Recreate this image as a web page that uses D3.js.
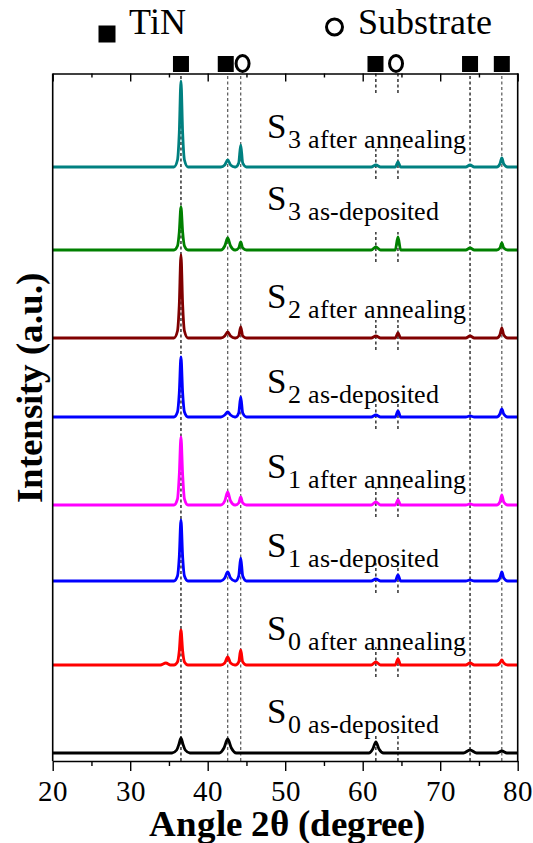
<meta charset="utf-8" />
<script src="https://d3js.org/d3.v7.min.js"></script>
<style>
  @font-face { font-family: 'RefSerif'; font-weight: 400;
    src: local('Liberation Serif'), local('LiberationSerif'), local('LiberationSerif-Regular'), local('Tinos'), local('Times New Roman'), local('DejaVu Serif'), local('DejaVuSerif'); }
  @font-face { font-family: 'RefSerif'; font-weight: 700;
    src: local('Liberation Serif Bold'), local('LiberationSerif-Bold'), local('Tinos Bold'), local('Times New Roman Bold'), local('DejaVu Serif Bold'), local('DejaVuSerif-Bold'); }
  body { margin: 0; background: #fff; }
  svg text { font-family: RefSerif, 'Liberation Serif', 'Times New Roman', serif; }
</style>
<div id="chart"></div>
<script>
  // 2theta grid shared by the coloured patterns (degrees)
  const angles = [20, 33.9, 34.6, 35.2, 35.65, 36.1, 36.33, 36.55, 36.77, 37.0, 37.45,
    41.7, 42.2, 42.58, 42.95, 43.5, 43.6, 44.0, 44.26, 44.52, 45.0,
    61.1, 61.7, 62.3, 64.2, 64.55, 64.9, 73.3, 73.85, 74.4,
    77.3, 77.7, 77.95, 78.2, 78.7, 80];

  // intensities above each pattern's own baseline (a.u.)
  const s3Annealed = [0, 0, 0, 0, 0, 7, 34, 86, 34, 7, 0, 0, 2, 7, 2, 0, 0, 4, 22, 4, 0, 0, 2, 0, 0, 5, 0, 0, 2, 0, 0, 3, 9, 3, 0, 0];
  const s3Deposited = [0, 0, 0, 0, 0, 4, 18, 43, 18, 4, 0, 0, 4, 12, 4, 0, 0, 2, 8, 2, 0, 0, 3, 0, 0, 13, 0, 0, 2, 0, 0, 2, 7, 2, 0, 0];
  const s2Annealed = [0, 0, 0, 0, 0, 7, 33, 83, 33, 7, 0, 0, 2, 6, 2, 0, 0, 2, 11, 2, 0, 0, 2, 0, 0, 5, 0, 0, 2, 0, 0, 3, 10, 3, 0, 0];
  const s2Deposited = [0, 0, 0, 0, 0, 5, 24, 60, 24, 5, 0, 0, 2, 5, 2, 0, 0, 4, 20, 4, 0, 0, 2, 0, 0, 6, 0, 0, 1, 0, 0, 3, 8, 3, 0, 0];
  const s1Annealed = [0, 0, 0, 0, 0, 6, 30, 68, 30, 6, 0, 0, 4, 13, 4, 0, 0, 2, 8, 2, 0, 0, 3, 0, 0, 5, 0, 0, 1, 0, 0, 3, 10, 3, 0, 0];
  const s1Deposited = [0, 0, 0, 0, 0, 5, 24, 61, 24, 5, 0, 0, 3, 9, 3, 0, 0, 5, 23, 5, 0, 0, 2, 0, 0, 6, 0, 0, 1, 0, 0, 3, 9, 3, 0, 0];
  const s0Annealed = [0, 0, 2, 0, 0, 3, 14, 35, 14, 3, 0, 0, 2, 8, 2, 0, 0, 3, 15, 3, 0, 0, 3, 0, 0, 6, 0, 0, 2, 0, 0, 2, 5, 2, 0, 0];

  // the as-deposited S0 film has broader peaks, own grid
  const s0Angles = [20, 35.4, 36.0, 36.3, 36.55, 36.8, 37.1, 37.7, 41.5, 42.1, 42.58, 43.05, 43.7,
    60.8, 61.3, 61.7, 62.1, 62.7, 73.0, 73.85, 74.7, 77.3, 77.95, 78.6, 80];
  const s0Deposited = [0, 0, 3, 9, 15, 9, 3, 0, 0, 5, 14, 5, 0, 0, 4, 11, 4, 0, 0, 3, 0, 0, 2, 0, 0];

  const sampleNames = ['3', '3', '2', '2', '1', '1', '0', '0'];
  const conditions = ['after annealing', 'as-deposited', 'after annealing', 'as-deposited',
    'after annealing', 'as-deposited', 'after annealing', 'as-deposited'];
  const offsets = [594, 511, 423, 344, 256, 180, 96, 8];
  const labelLevels = [623, 551, 453, 368, 283, 204, 121, 38];

  const tinPeaks = [36.55, 42.58, 61.7, 73.85, 77.95];
  const substratePeaks = [44.26, 64.55];
  const tinMarks = [36.55, 42.33, 61.65, 73.85, 77.95];
  const substrateMarks = [44.5, 64.3];

  const xTicks = [20, 30, 40, 50, 60, 70, 80];
  const xMinor = [25, 35, 45, 55, 65, 75];

  const series = [
    { x: angles, y: s3Annealed },
    { x: angles, y: s3Deposited },
    { x: angles, y: s2Annealed },
    { x: angles, y: s2Deposited },
    { x: angles, y: s1Annealed },
    { x: angles, y: s1Deposited },
    { x: angles, y: s0Annealed },
    { x: s0Angles, y: s0Deposited },
  ];
  const colors = ['#008080', '#008000', '#800000', '#0000ff', '#ff00ff', '#0000ff', '#ff0000', '#000000'];

  const serif = "RefSerif, 'Liberation Serif', 'Times New Roman', serif";

  const W = 533, H = 843;
  const svg = d3.select('#chart').append('svg').attr('width', W).attr('height', H);

  const x = d3.scaleLinear().domain([20, 80]).range([52.7, 517.7]);
  const y = d3.scaleLinear().domain([0, 687.5]).range([761, 73.5]);

  // dashed reference lines
  const full = [
    { a: tinPeaks[0], c: '#000' },
    { a: tinPeaks[1], c: '#555' },
    { a: substratePeaks[0], c: '#555' },
    { a: tinPeaks[3], c: '#000' },
    { a: tinPeaks[4], c: '#555' },
  ];
  svg.append('g').selectAll('line').data(full).join('line')
    .attr('x1', d => x(d.a)).attr('x2', d => x(d.a))
    .attr('y1', y(0)).attr('y2', y(687.5))
    .attr('stroke', d => d.c).attr('stroke-width', 1.2)
    .attr('stroke-dasharray', '3,2.5');

  // short segments near each pattern for 61.7 and 64.55
  const segs = [];
  [tinPeaks[2], substratePeaks[1]].forEach(a => {
    segs.push({ a: a, lo: 668, hi: 687.5 });
    offsets.forEach((o, i) => {
      segs.push({ a: a, lo: i === offsets.length - 1 ? 0 : o - 12, hi: o + 18 });
    });
  });
  svg.append('g').selectAll('line').data(segs).join('line')
    .attr('x1', d => x(d.a)).attr('x2', d => x(d.a))
    .attr('y1', d => y(d.lo)).attr('y2', d => y(d.hi))
    .attr('stroke', '#000').attr('stroke-width', 1.2)
    .attr('stroke-dasharray', '3,2.5');

  // patterns
  series.forEach((s, i) => {
    const pts = s.x.map((a, k) => [a, s.y[k] + offsets[i]]);
    svg.append('path')
      .datum(pts)
      .attr('fill', 'none')
      .attr('stroke', colors[i])
      .attr('stroke-width', 2.8)
      .attr('stroke-linejoin', 'round')
      .attr('d', d3.line().x(d => x(d[0])).y(d => y(d[1])).curve(d3.curveMonotoneX));
  });

  // sample labels
  const labels = svg.append('g').selectAll('text').data(sampleNames).join('text')
    .attr('x', x(47.65))
    .attr('y', (d, i) => y(labelLevels[i]))
    .attr('font-family', serif)
    .attr('fill', '#000');
  labels.append('tspan').attr('font-size', 35).text('S');
  labels.append('tspan').attr('font-size', 26).attr('dy', 10).attr('dx', 2)
    .text((d, i) => d + ' ' + conditions[i]);

  // frame
  const frame = svg.append('g');
  frame.append('line').attr('x1', x(20)).attr('x2', x(20)).attr('y1', y(0)).attr('y2', y(687.5));
  frame.append('line').attr('x1', x(80)).attr('x2', x(80)).attr('y1', y(0)).attr('y2', y(687.5));
  frame.selectAll('line').attr('stroke', '#000').attr('stroke-width', 1.6);

  const bottomAxis = svg.append('g').attr('transform', `translate(0,${y(0)})`);
  bottomAxis.call(d3.axisBottom(x).tickValues(xTicks).tickSize(10).tickSizeOuter(0));
  bottomAxis.attr('font-family', serif);
  bottomAxis.selectAll('text')
    .attr('y', 40).attr('dy', null)
    .attr('font-size', 29)
    .attr('font-family', serif)
    .attr('fill', '#000');
  const bottomMinor = svg.append('g').attr('transform', `translate(0,${y(0)})`);
  bottomMinor.call(d3.axisBottom(x).tickValues(xMinor).tickSize(5).tickSizeOuter(0));
  bottomMinor.selectAll('text').remove();
  bottomMinor.select('path.domain').remove();

  const topAxis = svg.append('g').attr('transform', `translate(0,${y(687.5)})`);
  topAxis.call(d3.axisTop(x).tickValues(xTicks).tickSize(-8).tickSizeOuter(0));
  topAxis.selectAll('text').remove();
  const topMinor = svg.append('g').attr('transform', `translate(0,${y(687.5)})`);
  topMinor.call(d3.axisTop(x).tickValues(xMinor).tickSize(-4).tickSizeOuter(0));
  topMinor.selectAll('text').remove();
  topMinor.select('path.domain').remove();
  svg.selectAll('path.domain').attr('stroke-width', 1.6);
  svg.selectAll('.tick line').attr('stroke-width', 1.4);

  // phase markers above the frame
  svg.append('g').selectAll('rect').data(tinMarks).join('rect')
    .attr('x', d => x(d) - 8).attr('y', 56).attr('width', 16).attr('height', 16)
    .attr('fill', '#000');
  svg.append('g').selectAll('ellipse').data(substrateMarks).join('ellipse')
    .attr('cx', d => x(d)).attr('cy', 63.5).attr('rx', 6.5).attr('ry', 8)
    .attr('fill', '#fff').attr('stroke', '#000').attr('stroke-width', 3);

  // legend
  svg.append('rect').attr('x', 98.5).attr('y', 25.5).attr('width', 17).attr('height', 17).attr('fill', '#000');
  svg.append('text').attr('x', 129).attr('y', 34).attr('font-family', serif).attr('font-size', 36).text('TiN');
  svg.append('circle').attr('cx', 334.5).attr('cy', 27).attr('r', 8)
    .attr('fill', 'none').attr('stroke', '#000').attr('stroke-width', 3);
  svg.append('text').attr('x', 358).attr('y', 34).attr('font-family', serif).attr('font-size', 36).text('Substrate');

  // axis titles
  svg.append('text')
    .attr('x', 287).attr('y', 836)
    .attr('text-anchor', 'middle')
    .attr('font-family', serif)
    .attr('font-size', 37).attr('font-weight', 'bold')
    .text('Angle 2θ (degree)');
  svg.append('text')
    .attr('transform', 'translate(42,388) rotate(-90)')
    .attr('text-anchor', 'middle')
    .attr('font-family', serif)
    .attr('font-size', 37).attr('font-weight', 'bold')
    .text('Intensity (a.u.)');
</script>
